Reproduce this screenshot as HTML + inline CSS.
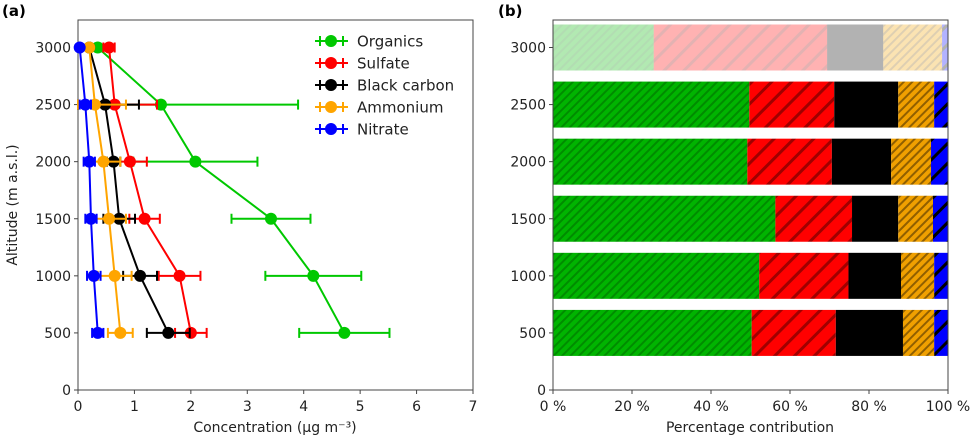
<!DOCTYPE html>
<html><head><meta charset="utf-8">
<style>
body{margin:0;background:#fff;font-family:"Liberation Sans","DejaVu Sans",sans-serif;}
svg text{font-family:"DejaVu Sans","Liberation Sans",sans-serif;}
</style></head>
<body>
<svg id="fig" width="974" height="440" viewBox="0 0 974 440" xmlns="http://www.w3.org/2000/svg">
<defs>
<pattern id="hg" patternUnits="userSpaceOnUse" width="6" height="6" patternTransform="rotate(45)"><rect width="6" height="6" fill="#00b400"/><rect width="2" height="6" fill="#008c00"/></pattern>
<pattern id="hr" patternUnits="userSpaceOnUse" width="14" height="14" patternTransform="rotate(45)"><rect width="14" height="14" fill="#ff0000"/><rect width="3" height="14" fill="#a00000"/></pattern>
<pattern id="ho" patternUnits="userSpaceOnUse" width="6" height="6" patternTransform="rotate(45)"><rect width="6" height="6" fill="#f0a000"/><rect width="2" height="6" fill="#905f00"/></pattern>
<pattern id="hb" patternUnits="userSpaceOnUse" width="14" height="14" patternTransform="rotate(45)"><rect width="14" height="14" fill="#0000ff"/><rect width="3" height="14" fill="#000000"/></pattern>
</defs>
<text x="2" y="16" font-size="15" font-weight="bold" fill="#000">(a)</text>
<text x="498" y="16" font-size="15" font-weight="bold" fill="#000">(b)</text>
<g id="left"></g>
<g id="right"></g>
</svg>
<script>
const altitudes=[500,1000,1500,2000,2500,3000];
const species=["Organics","Sulfate","Black carbon","Ammonium","Nitrate"];
const colors=["#00c800","#ff0000","#000000","#ffa500","#0000ff"];
const orgVals=[4.72,4.17,3.42,2.08,1.47,0.35];
const orgErr=[0.8,0.85,0.7,1.1,2.43,0.05];
const sulVals=[2.0,1.8,1.18,0.92,0.65,0.55];
const sulErr=[0.28,0.37,0.27,0.3,0.75,0.1];
const bcVals=[1.6,1.1,0.73,0.63,0.48,0.2];
const bcErr=[0.38,0.3,0.28,0.12,0.6,0.03];
const ammVals=[0.75,0.65,0.55,0.45,0.3,0.2];
const ammErr=[0.22,0.3,0.3,0.3,0.55,0.05];
const nitVals=[0.35,0.28,0.23,0.2,0.13,0.03];
const nitErr=[0.1,0.12,0.1,0.1,0.1,0.03];
const xTicks=[0,1,2,3,4,5,6,7];
const yTicks=[0,500,1000,1500,2000,2500,3000];
const orgPct=[50.3,52.2,56.3,49.2,49.7,25.5];
const sulPct=[21.3,22.6,19.4,21.4,21.5,43.9];
const bcPct=[17.0,13.3,11.7,15.0,16.2,14.2];
const ammPct=[7.9,8.4,8.8,10.1,9.1,14.9];
const nitPct=[3.5,3.5,3.8,4.3,3.5,1.5];
const pctTicks=[0,20,40,60,80,100];

const NS="http://www.w3.org/2000/svg";
function mk(p,t,a){const e=document.createElementNS(NS,t);for(const k in a)e.setAttribute(k,a[k]);p.appendChild(e);return e;}
const T=20,B=390;
const yS=v=>B-(v/3000)*(B-47.5);
const L=document.getElementById('left');
const lx0=78,lx1=473;
const xS=v=>lx0+v/7*(lx1-lx0);
const frame=mk(L,'rect',{x:lx0,y:T,width:lx1-lx0,height:B-T,fill:'none',stroke:'#444','stroke-width':1});


xTicks.forEach(t=>{mk(L,'line',{x1:xS(t),x2:xS(t),y1:B,y2:B+4,stroke:'#444'});
 const tx=mk(L,'text',{x:xS(t),y:B+21,'font-size':14,'text-anchor':'middle',fill:'#222'});tx.textContent=t;
 });
yTicks.forEach(t=>{mk(L,'line',{x1:lx0-4,x2:lx0,y1:yS(t),y2:yS(t),stroke:'#444'});
 const tx=mk(L,'text',{x:lx0-7,y:yS(t)+5,'font-size':14,'text-anchor':'end',fill:'#222'});tx.textContent=t;
 });
let xt=mk(L,'text',{x:275,y:432,'font-size':14,'text-anchor':'middle',fill:'#222'});xt.textContent='Concentration (µg m⁻³)';

let yt=mk(L,'text',{x:0,y:0,'font-size':14,'text-anchor':'middle',fill:'#222',transform:'translate(17,205) rotate(-90)'});yt.textContent='Altitude (m a.s.l.)';

const vals=[orgVals,sulVals,bcVals,ammVals,nitVals],errs=[orgErr,sulErr,bcErr,ammErr,nitErr];
for(let s=0;s<5;s++){
 const g=mk(L,'g',{});
 
 
 const c=colors[s];
 mk(g,'polyline',{points:altitudes.map((a,i)=>xS(vals[s][i])+','+yS(a)).join(' '),fill:'none',stroke:c,'stroke-width':2});
 altitudes.forEach((a,i)=>{const y=yS(a),lo=xS(Math.max(0,vals[s][i]-errs[s][i])),hi=xS(vals[s][i]+errs[s][i]);
  mk(g,'line',{x1:lo,x2:hi,y1:y,y2:y,stroke:c,'stroke-width':2});
  mk(g,'line',{x1:lo,x2:lo,y1:y-5,y2:y+5,stroke:c,'stroke-width':2});
  mk(g,'line',{x1:hi,x2:hi,y1:y-5,y2:y+5,stroke:c,'stroke-width':2});
  const p=mk(g,'circle',{cx:xS(vals[s][i]),cy:y,r:6,fill:c});
  });
 const ly=41+s*22;
 const lg=mk(L,'g',{});
 
 mk(lg,'line',{x1:315,x2:348,y1:ly,y2:ly,stroke:c,'stroke-width':2});
 mk(lg,'line',{x1:320,x2:320,y1:ly-5,y2:ly+5,stroke:c,'stroke-width':2});
 mk(lg,'line',{x1:343,x2:343,y1:ly-5,y2:ly+5,stroke:c,'stroke-width':2});
 mk(lg,'circle',{cx:331,cy:ly,r:6,fill:c});
 const lt=mk(lg,'text',{x:357,y:ly+5.5,'font-size':15,fill:'#222'});lt.textContent=species[s];
}
const R=document.getElementById('right');
const rx0=553,rx1=948;
const pS=v=>rx0+v/100*(rx1-rx0);
const pcts=[orgPct,sulPct,bcPct,ammPct,nitPct];
const fills=["url(#hg)","url(#hr)","#000","url(#ho)","url(#hb)"];
altitudes.forEach((a,i)=>{let cum=0;const y=yS(a);
 const op=a===3000?0.3:1;
 for(let s=0;s<5;s++){const r=mk(R,'rect',{x:pS(cum),y:y-23,width:pS(cum+pcts[s][i])-pS(cum),height:46,fill:fills[s],opacity:op});
  
  
  cum+=pcts[s][i];}
});
const rf=mk(R,'rect',{x:rx0,y:T,width:rx1-rx0,height:B-T,fill:'none',stroke:'#444','stroke-width':1});

pctTicks.forEach(t=>{mk(R,'line',{x1:pS(t),x2:pS(t),y1:B,y2:B+4,stroke:'#444'});
 const tx=mk(R,'text',{x:pS(t),y:B+21,'font-size':14,'text-anchor':'middle',fill:'#222'});tx.textContent=t+' %';
 });
yTicks.forEach(t=>{mk(R,'line',{x1:rx0-4,x2:rx0,y1:yS(t),y2:yS(t),stroke:'#444'});
 const tx=mk(R,'text',{x:rx0-7,y:yS(t)+5,'font-size':14,'text-anchor':'end',fill:'#222'});tx.textContent=t;
 });
let rt=mk(R,'text',{x:750,y:432,'font-size':14,'text-anchor':'middle',fill:'#222'});rt.textContent='Percentage contribution';

</script>
</body></html>
